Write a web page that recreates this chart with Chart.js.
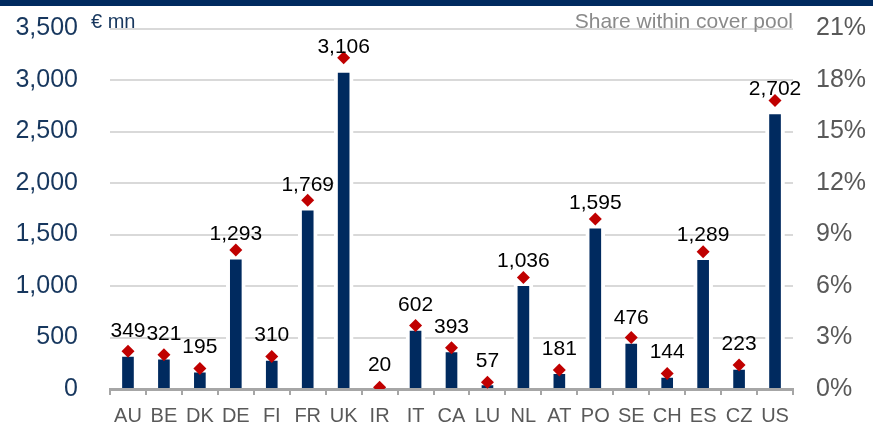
<!DOCTYPE html>
<html>
<head>
<meta charset="utf-8">
<script src="https://cdn.jsdelivr.net/npm/chart.js@4"></script>
<style>
  html, body { margin: 0; padding: 0; background: #fff; }
  #wrap { position: relative; width: 873px; height: 425px; overflow: hidden; }
  #band { position: absolute; left: 0; top: 0; width: 873px; height: 6px; background: #002A5F; }
  canvas { position: absolute; left: 0; top: 0; }
  .lbl { position: absolute; font-family: "Liberation Sans", Arial, sans-serif; white-space: nowrap; }
  #unit { left: 91px; top: 11px; font-size: 20px; line-height: 20px; color: #17375E; }
  #share { right: 80px; top: 10px; font-size: 21px; line-height: 21px; color: #8A8A8A; }
</style>
</head>
<body>
<div id="wrap">
  <canvas id="c" width="873" height="425"></canvas>
  <div id="band"></div>
  <div class="lbl" id="unit">€ mn</div>
  <div class="lbl" id="share">Share within cover pool</div>
</div>
<script>
// ---- data ----
const categories = ["AU","BE","DK","DE","FI","FR","UK","IR","IT","CA","LU","NL","AT","PO","SE","CH","ES","CZ","US"];
const amounts = [349, 321, 195, 1293, 310, 1769, 3106, 20, 602, 393, 57, 1036, 181, 1595, 476, 144, 1289, 223, 2702];
const sharePct = [2.2, 2.0, 1.2, 8.1, 1.9, 11.0, 19.3, 0.1, 3.7, 2.4, 0.4, 6.5, 1.1, 9.9, 3.0, 0.9, 8.0, 1.4, 16.8];
const leftTicks = [0, 500, 1000, 1500, 2000, 2500, 3000, 3500];
const rightTicks = [0, 3, 6, 9, 12, 15, 18, 21];

const FONT = "'Liberation Sans', Arial, sans-serif";

function noPad(s) { s.paddingTop = 0; s.paddingBottom = 0; s.paddingLeft = 0; s.paddingRight = 0; }

const valueLabels = {
  id: 'valueLabels',
  afterDatasetsDraw(chart) {
    const ctx = chart.ctx;
    const meta = chart.getDatasetMeta(0);
    const ys = chart.scales.y;
    ctx.save();
    ctx.font = "21px " + FONT;
    ctx.fillStyle = "#000";
    ctx.textAlign = "center";
    ctx.textBaseline = "middle";
    meta.data.forEach((el, i) => {
      const v = amounts[i];
      const y = ys.getPixelForValue(v) - 21.5;
      ctx.fillText(v.toLocaleString('en-US'), el.x, y);
    });
    ctx.restore();
  }
};

new Chart(document.getElementById('c'), {
  type: 'bar',
  data: {
    labels: categories,
    datasets: [
      {
        type: 'bar',
        data: amounts,
        yAxisID: 'y',
        backgroundColor: '#002A5F',
        borderColor: '#ffffff',
        borderWidth: 4,
        borderSkipped: 'bottom',
        barThickness: 19,
        order: 2
      },
      {
        type: 'line',
        data: sharePct,
        yAxisID: 'y2',
        showLine: false,
        pointStyle: 'rectRot',
        pointRadius: 6.5,
        pointHoverRadius: 6.5,
        pointBackgroundColor: '#C00000',
        pointBorderColor: '#C00000',
        pointBorderWidth: 0,
        order: 1
      }
    ]
  },
  options: {
    responsive: false,
    animation: false,
    events: [],
    layout: { padding: { top: 28.5, left: 0, right: 0, bottom: 0 } },
    plugins: { legend: { display: false }, tooltip: { enabled: false } },
    scales: {
      x: {
        z: 1,
        offset: true,
        grid: { display: true, drawOnChartArea: false, drawTicks: true, tickLength: 6, color: '#A6A6A6', lineWidth: 2 },
        border: { display: true, color: '#A6A6A6', width: 3 },
        ticks: { color: '#595959', font: { family: FONT, size: 20 }, padding: 9, maxRotation: 0, autoSkip: false },
        afterFit(s) { s.height = 36; noPad(s); }
      },
      y: {
        position: 'left',
        min: 0, max: 3500,
        afterBuildTicks(s) { s.ticks = leftTicks.map(v => ({ value: v })); },
        grid: { color: '#D9D9D9', lineWidth: 2, drawTicks: false },
        border: { display: false },
        ticks: {
          color: '#17375E', font: { family: FONT, size: 25 }, padding: 32,
          callback: v => v.toLocaleString('en-US')
        },
        afterFit(s) { s.width = 110; noPad(s); }
      },
      y2: {
        position: 'right',
        min: 0, max: 21,
        afterBuildTicks(s) { s.ticks = rightTicks.map(v => ({ value: v })); },
        grid: { display: false, drawTicks: false },
        border: { display: false },
        ticks: { color: '#595959', font: { family: FONT, size: 25 }, padding: 23, callback: v => v + '%' },
        afterFit(s) { s.width = 80; noPad(s); }
      }
    }
  },
  plugins: [valueLabels]
});
</script>
</body>
</html>
